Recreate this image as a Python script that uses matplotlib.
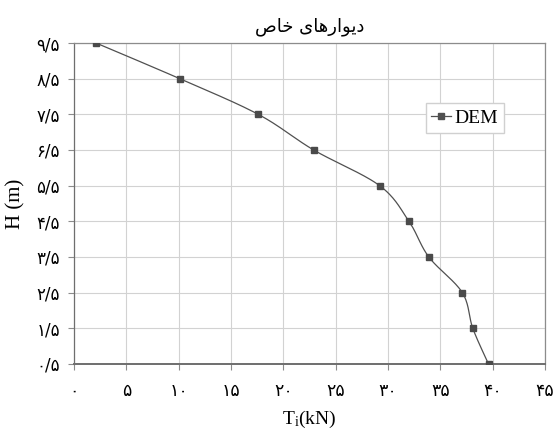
import matplotlib
matplotlib.use("Agg")
import matplotlib.pyplot as plt
import numpy as np

# data
force = [2.1, 10.1, 17.6, 22.9, 29.2, 32.0, 33.9, 37.1, 38.1, 39.6]
height = [9.5, 8.5, 7.5, 6.5, 5.5, 4.5, 3.5, 2.5, 1.5, 0.5]
x_ticks = [0, 5, 10, 15, 20, 25, 30, 35, 40, 45]
y_ticks = [0.5, 1.5, 2.5, 3.5, 4.5, 5.5, 6.5, 7.5, 8.5, 9.5]
series_name = "DEM"
# "دیوارهای خاص" written with presentation forms, in visual order
title_txt = "\uFEB9\uFE8E\uFEA7 \uFEEF\uFE8E\uFEEB\uFEAD\uFE8D\uFEEE\uFEF3\uFEA9"

FA = str.maketrans("0123456789.", "۰۱۲۳۴۵۶۷۸۹/")


def fa(v):
    s = ("%g" % v)
    return s.translate(FA)


def smooth(xs, ys, sx, sy, n=30):
    # bezier smoothing like a spreadsheet "smoothed line", done in screen scale
    P = np.column_stack([np.array(xs) * sx, np.array(ys) * sy])
    out = []
    for i in range(len(P) - 1):
        p0 = P[i - 1] if i > 0 else P[i]
        p1, p2 = P[i], P[i + 1]
        p3 = P[i + 2] if i + 2 < len(P) else P[i + 1]
        c1 = p1 + (p2 - p0) / 6
        c2 = p2 - (p3 - p1) / 6
        t = np.linspace(0, 1, n)[:, None]
        seg = (1 - t) ** 3 * p1 + 3 * (1 - t) ** 2 * t * c1 + 3 * (1 - t) * t ** 2 * c2 + t ** 3 * p2
        out.append(seg)
    out = np.vstack(out)
    return out[:, 0] / sx, out[:, 1] / sy


plt.rcParams['font.family'] = ['Liberation Serif', 'DejaVu Sans']

fig = plt.figure(figsize=(5.59, 4.30), dpi=100)
ax = fig.add_axes([0.1324, 0.1535, 0.8426, 0.7465])

sx, sy = 471 / 45.0, 321 / 9.0
lx, ly = smooth(force, height, sx, sy)
ax.plot(lx, ly, color="#505050", lw=0.9, zorder=3)
ax.plot(force, height, ls="none", marker="s", ms=4.5, color="#4a4a4a", zorder=4)
# legend proxy
ax.plot([], [], color="#505050", lw=0.9, marker="s", ms=4.5, label=series_name)

ax.set_xlim(0, 45)
ax.set_ylim(0.5, 9.5)
ax.set_xticks(x_ticks)
ax.set_yticks(y_ticks)
ax.set_xticklabels([fa(v) for v in x_ticks], family=['DejaVu Sans'], fontsize=12.5)
ax.set_yticklabels([fa(v) for v in y_ticks], family=['DejaVu Sans'], fontsize=12)
ax.grid(True, color="#d2d2d2", lw=0.8)
ax.set_axisbelow(True)
for s in ax.spines.values():
    s.set_color("#8c8c8c")
    s.set_linewidth(0.9)
ax.spines['left'].set_color("#6e6e6e")
ax.spines['bottom'].set_color("#6e6e6e")
ax.spines['bottom'].set_linewidth(1.4)
ax.tick_params(axis="both", length=4, color="#8c8c8c", width=0.8)
ax.tick_params(axis="x", pad=9)
ax.tick_params(axis="y", pad=6)

ax.set_xlabel(r"$\mathregular{T_i}$(kN)", fontsize=14, labelpad=6)
ax.set_ylabel("H (m)", fontsize=15, labelpad=8)
ax.set_title(title_txt, family=['DejaVu Sans'], fontsize=13, pad=8)

leg = ax.legend(loc="center", bbox_to_anchor=(0.83, 0.766), fontsize=14,
                handlelength=1.0, handletextpad=0.2, borderpad=0.3,
                fancybox=False, framealpha=1, edgecolor="#d0d0d0")

fig.savefig("out.png", dpi=100)
